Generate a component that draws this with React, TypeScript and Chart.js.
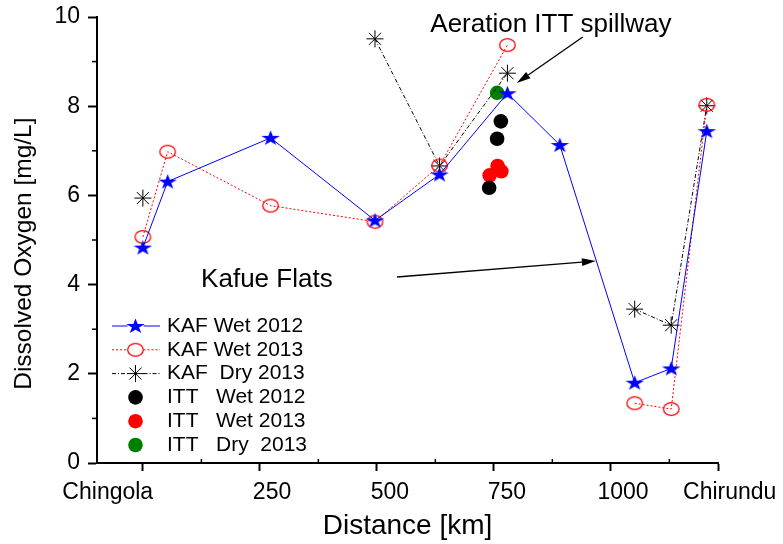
import React, { useEffect, useRef } from 'react';
import { Chart, registerables } from 'chart.js';
import { drawPoint } from 'chart.js/helpers';

Chart.register(...registerables);

const FONT = "'Liberation Sans', Arial, Helvetica, sans-serif";

// ---- data ----
const kafDistance = [0, 53, 273, 496, 634, 779, 891, 1051, 1129, 1205];
const kafWet2012 = [4.83, 6.31, 7.29, 5.44, 6.47, 8.29, 7.13, 1.8, 2.12, 7.44];
const kafWet2013 = [5.07, 6.98, 5.77, 5.41, 6.67, 9.37, null, 1.34, 1.21, 8.03];
const kafDry2013 = [5.94, null, null, 9.51, 6.66, 8.74, null, 3.45, 3.09, 8.01];

const ittWet2012X = [740, 757, 765];
const ittWet2012Y = [6.17, 7.27, 7.66];
const ittWet2013X = [741, 758, 766];
const ittWet2013Y = [6.45, 6.66, 6.54];
const ittDry2013X = [757];
const ittDry2013Y = [8.3];

const seriesLabels = [
  'KAF Wet 2012',
  'KAF Wet 2013',
  'KAF  Dry 2013',
  'ITT   Wet 2012',
  'ITT   Wet 2013',
  'ITT   Dry  2013',
];

// x axis: tick marks and tick labels (labels sit slightly off the marks, as in the original)
const xMin = -98;
const xMax = 1229;
const xMarkValues = [0, 250, 500, 750, 1000, 1229];
const xMinorValues = [125, 375, 625, 875, 1125];
const xLabelValues = [-75, 276, 528, 778, 1026, 1254];
const xTickLabels = ['Chingola', '250', '500', '750', '1000', 'Chirundu'];
const yMinorValues = [1, 3, 5, 7, 9];

// annotations (data coordinates)
const annoTexts = [
  { text: 'Aeration ITT spillway', x: 872, y: 9.82 },
  { text: 'Kafue Flats', x: 265, y: 4.1 },
];
const annoArrows = [
  { x0: 940, y0: 9.55, x1: 799, y1: 8.52 },
  { x0: 543, y0: 4.17, x1: 968, y1: 4.53 },
];

function pts(xs: number[], ys: (number | null)[]) {
  return xs.map((x, i) => ({ x, y: ys[i] }));
}

function makeStar(color: string) {
  const c = document.createElement('canvas');
  c.width = 21;
  c.height = 18;
  const ctx = c.getContext('2d')!;
  ctx.translate(10.5, 9.6);
  ctx.scale(1, 0.82);
  ctx.beginPath();
  const R = 9.8;
  const r = R * 0.382;
  for (let i = 0; i < 10; i++) {
    const rad = i % 2 === 0 ? R : r;
    const a = -Math.PI / 2 + (i * Math.PI) / 5;
    ctx.lineTo(rad * Math.cos(a), rad * Math.sin(a));
  }
  ctx.closePath();
  ctx.fillStyle = color;
  ctx.fill();
  return c;
}

function makeRing(color: string) {
  const c = document.createElement('canvas');
  c.width = 19;
  c.height = 16;
  const ctx = c.getContext('2d')!;
  ctx.beginPath();
  ctx.ellipse(9.5, 8, 7.8, 6.4, 0, 0, Math.PI * 2);
  ctx.strokeStyle = color;
  ctx.lineWidth = 1.3;
  ctx.stroke();
  return c;
}

const minorTicksPlugin = {
  id: 'minorTicks',
  afterDraw(chart: any) {
    const { ctx } = chart;
    const x = chart.scales.x;
    const y = chart.scales.y;
    ctx.save();
    ctx.strokeStyle = '#000';
    ctx.lineWidth = 1.5;
    yMinorValues.forEach((v) => {
      const py = y.getPixelForValue(v);
      ctx.beginPath();
      ctx.moveTo(y.right - 5, py);
      ctx.lineTo(y.right, py);
      ctx.stroke();
    });
    xMinorValues.forEach((v) => {
      const px = x.getPixelForValue(v);
      ctx.beginPath();
      ctx.moveTo(px, x.top);
      ctx.lineTo(px, x.top - 4);
      ctx.stroke();
    });
    ctx.restore();
  },
};

const annotationPlugin = {
  id: 'annotations',
  afterDatasetsDraw(chart: any) {
    const { ctx } = chart;
    const x = chart.scales.x;
    const y = chart.scales.y;
    ctx.save();
    ctx.fillStyle = '#000';
    ctx.strokeStyle = '#000';
    ctx.font = `26px ${FONT}`;
    ctx.textAlign = 'center';
    ctx.textBaseline = 'middle';
    annoTexts.forEach((t) => {
      ctx.fillText(t.text, x.getPixelForValue(t.x), y.getPixelForValue(t.y));
    });
    annoArrows.forEach((a) => {
      const px0 = x.getPixelForValue(a.x0);
      const py0 = y.getPixelForValue(a.y0);
      const px1 = x.getPixelForValue(a.x1);
      const py1 = y.getPixelForValue(a.y1);
      const ang = Math.atan2(py1 - py0, px1 - px0);
      const L = 14;
      const W = 3.8;
      const bx = px1 - L * Math.cos(ang);
      const by = py1 - L * Math.sin(ang);
      ctx.lineWidth = 1.3;
      ctx.beginPath();
      ctx.moveTo(px0, py0);
      ctx.lineTo(bx, by);
      ctx.stroke();
      ctx.beginPath();
      ctx.moveTo(px1, py1);
      ctx.lineTo(bx + W * Math.sin(ang), by - W * Math.cos(ang));
      ctx.lineTo(bx - W * Math.sin(ang), by + W * Math.cos(ang));
      ctx.closePath();
      ctx.fill();
    });
    ctx.restore();
  },
};

const legendPlugin = {
  id: 'insideLegend',
  afterDraw(chart: any) {
    const { ctx, chartArea } = chart;
    const x0 = chartArea.left + 15;
    const x1 = chartArea.left + 63;
    const mx = chartArea.left + 38.5;
    const tx = chartArea.left + 70;
    const yStart = chartArea.bottom - 137;
    const dy = 23.8;
    chart.data.datasets.forEach((ds: any, i: number) => {
      const yy = yStart + i * dy;
      ctx.save();
      if (ds.showLine) {
        ctx.strokeStyle = ds.borderColor;
        ctx.lineWidth = ds.borderWidth;
        ctx.setLineDash(ds.borderDash || []);
        ctx.beginPath();
        ctx.moveTo(x0, yy);
        ctx.lineTo(mx - 8, yy);
        ctx.moveTo(mx + 8, yy);
        ctx.lineTo(x1, yy);
        ctx.stroke();
        ctx.setLineDash([]);
      }
      ctx.fillStyle = ds.pointBackgroundColor;
      ctx.strokeStyle = ds.pointBorderColor;
      ctx.lineWidth = ds.pointBorderWidth;
      drawPoint(
        ctx,
        {
          pointStyle: ds.pointStyle,
          radius: ds.pointRadius,
          rotation: 0,
          borderWidth: ds.pointBorderWidth,
        } as any,
        mx,
        yy
      );
      ctx.restore();
      ctx.save();
      ctx.fillStyle = '#000';
      ctx.font = `21px ${FONT}`;
      ctx.textAlign = 'left';
      ctx.textBaseline = 'middle';
      ctx.fillText(ds.label, tx, yy);
      ctx.restore();
    });
  },
};

export default function App() {
  const ref = useRef<HTMLCanvasElement>(null);

  useEffect(() => {
    const canvas = ref.current!;
    Chart.defaults.font.family = FONT;
    Chart.defaults.color = '#000';

    const starImg = makeStar('#0000ff');
    const ringImg = makeRing('#ff0000');

    const chart = new Chart(canvas, {
      type: 'scatter',
      data: {
        datasets: [
          {
            label: seriesLabels[0],
            data: pts(kafDistance, kafWet2012),
            showLine: true,
            borderColor: '#0000ff',
            borderWidth: 1,
            pointStyle: starImg,
            pointRadius: 9,
            pointBackgroundColor: '#0000ff',
            pointBorderColor: '#0000ff',
            pointBorderWidth: 0,
            clip: false,
          },
          {
            label: seriesLabels[1],
            data: pts(kafDistance, kafWet2013),
            showLine: true,
            borderColor: '#ff0000',
            borderWidth: 1,
            borderDash: [2, 2],
            pointStyle: ringImg,
            pointRadius: 8,
            pointBackgroundColor: 'rgba(0,0,0,0)',
            pointBorderColor: '#ff0000',
            pointBorderWidth: 0,
            clip: false,
          },
          {
            label: seriesLabels[2],
            data: pts(kafDistance, kafDry2013),
            showLine: true,
            borderColor: '#000000',
            borderWidth: 1,
            borderDash: [4, 2, 1, 2],
            pointStyle: 'star',
            pointRadius: 8.5,
            pointBackgroundColor: 'rgba(0,0,0,0)',
            pointBorderColor: '#000000',
            pointBorderWidth: 1,
            clip: false,
          },
          {
            label: seriesLabels[3],
            data: pts(ittWet2012X, ittWet2012Y),
            showLine: false,
            pointStyle: 'circle',
            pointRadius: 7.3,
            pointBackgroundColor: '#000000',
            pointBorderColor: '#000000',
            pointBorderWidth: 0,
            clip: false,
          },
          {
            label: seriesLabels[4],
            data: pts(ittWet2013X, ittWet2013Y),
            showLine: false,
            pointStyle: 'circle',
            pointRadius: 7.3,
            pointBackgroundColor: '#ff0000',
            pointBorderColor: '#ff0000',
            pointBorderWidth: 0,
            clip: false,
          },
          {
            label: seriesLabels[5],
            data: pts(ittDry2013X, ittDry2013Y),
            showLine: false,
            pointStyle: 'circle',
            pointRadius: 7.3,
            pointBackgroundColor: '#008000',
            pointBorderColor: '#008000',
            pointBorderWidth: 0,
            clip: false,
          },
        ] as any,
      },
      options: {
        animation: false,
        responsive: false,
        devicePixelRatio: 1,
        events: [],
        spanGaps: false,
        layout: { padding: { left: 0, top: 17, right: 65, bottom: 0 } },
        plugins: {
          legend: { display: false },
          tooltip: { enabled: false },
        },
        scales: {
          x: {
            type: 'linear',
            position: 'bottom',
            weight: 0,
            min: xMin,
            max: xMax,
            afterBuildTicks: (s: any) => {
              s.ticks = xMarkValues.map((v) => ({ value: v }));
            },
            ticks: { display: false },
            grid: {
              display: true,
              drawOnChartArea: false,
              drawTicks: true,
              tickLength: 8,
              tickWidth: 2,
              tickColor: '#000',
            },
            border: { display: true, color: '#000', width: 2 },
            afterFit: (s: any) => {
              s.height = 8;
              s.paddingLeft = 0;
              s.paddingRight = 0;
            },
          },
          xl: {
            type: 'linear',
            position: 'bottom',
            weight: 1,
            min: xMin,
            max: xMax,
            afterBuildTicks: (s: any) => {
              s.ticks = xLabelValues.map((v) => ({ value: v }));
            },
            ticks: {
              autoSkip: false,
              maxRotation: 0,
              minRotation: 0,
              padding: 8,
              color: '#000',
              font: { family: FONT, size: 23 },
              callback: (_v: any, i: number) => xTickLabels[i],
            },
            grid: { display: false, drawTicks: false },
            border: { display: false },
            title: {
              display: true,
              text: 'Distance [km]',
              color: '#000',
              font: { family: FONT, size: 28 },
              padding: { top: 0, bottom: 1 },
            },
            afterFit: (s: any) => {
              s.height = 73;
              s.paddingLeft = 0;
              s.paddingRight = 0;
            },
          },
          y: {
            type: 'linear',
            position: 'left',
            min: 0,
            max: 10,
            ticks: {
              stepSize: 2,
              padding: 8,
              color: '#000',
              font: { family: FONT, size: 23 },
            },
            grid: {
              display: true,
              drawOnChartArea: false,
              drawTicks: true,
              tickLength: 9,
              tickWidth: 2,
              tickColor: '#000',
            },
            border: { display: true, color: '#000', width: 2 },
            title: {
              display: true,
              text: 'Dissolved Oxygen [mg/L]    ',
              color: '#000',
              font: { family: FONT, size: 24.5 },
              padding: { top: 10, bottom: 0 },
            },
            afterFit: (s: any) => {
              s.width = 97;
              s.paddingTop = 0;
              s.paddingBottom = 0;
            },
          },
        } as any,
      },
      plugins: [minorTicksPlugin, annotationPlugin, legendPlugin],
    });

    return () => chart.destroy();
  }, []);

  return (
    <div
      style={{
        position: 'fixed',
        left: 0,
        top: 0,
        width: 783,
        height: 544,
        background: '#fff',
      }}
    >
      <canvas
        ref={ref}
        width={783}
        height={544}
        style={{ display: 'block', width: 783, height: 544 }}
      />
    </div>
  );
}
